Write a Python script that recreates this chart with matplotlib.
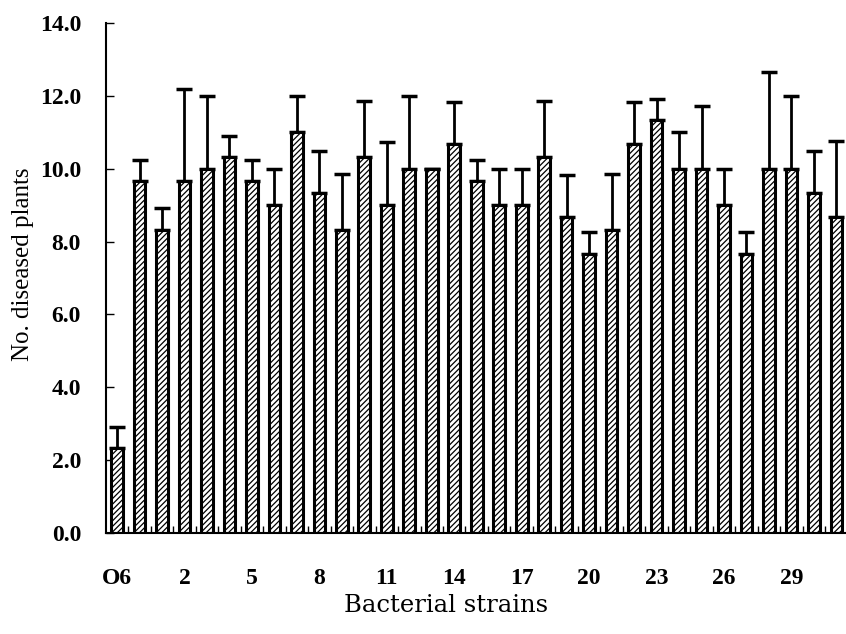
import numpy as np
import matplotlib
matplotlib.use('Agg')
import matplotlib.pyplot as plt

strains = ['O6'] + ['s%d' % i for i in range(32)]
means = [2.33, 9.67, 8.33, 9.67, 10.0, 10.33, 9.67, 9.0, 11.0, 9.33, 8.33,
         10.33, 9.0, 10.0, 10.0, 10.67, 9.67, 9.0, 9.0, 10.33, 8.67,
         7.67, 8.33, 10.67, 11.33, 10.0, 10.0, 9.0, 7.67, 10.0, 10.0, 9.33, 8.67]
errs = [0.58, 0.58, 0.58, 2.52, 2.0, 0.58, 0.58, 1.0, 1.0, 1.15, 1.53,
        1.53, 1.73, 2.0, 0.0, 1.15, 0.58, 1.0, 1.0, 1.53, 1.15,
        0.58, 1.53, 1.15, 0.58, 1.0, 1.73, 1.0, 0.58, 2.65, 2.0, 1.15, 2.08]
tick_labels = ['O6', '2', '5', '8', '11', '14', '17', '20', '23', '26', '29']

plt.rcParams['font.family'] = ['Liberation Serif', 'DejaVu Serif']
plt.rcParams['hatch.linewidth'] = 0.9
plt.rcParams['hatch.color'] = '#333333'

fig = plt.figure(figsize=(8.46, 6.34), dpi=100)
ax = fig.add_axes([0.1253, 0.1593, 0.874, 0.8044])

x = np.arange(len(means))
ax.bar(x, means, width=0.52, color='white', edgecolor='black', linewidth=2.2,
       hatch='//////', zorder=2)
ax.errorbar(x, means, yerr=[np.zeros(len(errs)), errs], fmt='none',
            ecolor='black', elinewidth=2.0, capsize=6, capthick=2.5, zorder=1)

ax.set_xlim(-0.49, 32.4)
ax.set_ylim(0, 14)
ax.set_yticks(np.arange(0, 14.1, 2))
ax.set_yticklabels(['%.1f' % v for v in np.arange(0, 14.1, 2)],
                   fontsize=17, fontweight='bold')
ax.set_xticks(x[::3])
ax.set_xticklabels(tick_labels, fontsize=17, fontweight='bold')
ax.set_xticks(x[:-1] + 0.5, minor=True)
ax.tick_params(axis='x', which='major', length=0, pad=25)
ax.tick_params(axis='x', which='minor', direction='in', length=5, width=1)
ax.tick_params(axis='y', direction='in', length=6, width=1, pad=18)

for s in ['top', 'right']:
    ax.spines[s].set_visible(False)
ax.spines['left'].set_linewidth(1.5)
ax.spines['bottom'].set_linewidth(1.5)

ax.set_ylabel('No. diseased plants', fontsize=18)
ax.yaxis.set_label_coords(-0.098, 0.527)
ax.set_xlabel('Bacterial strains', fontsize=17.5, family='DejaVu Serif')
ax.xaxis.set_label_coords(0.46, -0.12)

fig.savefig('out.png', dpi=100)
